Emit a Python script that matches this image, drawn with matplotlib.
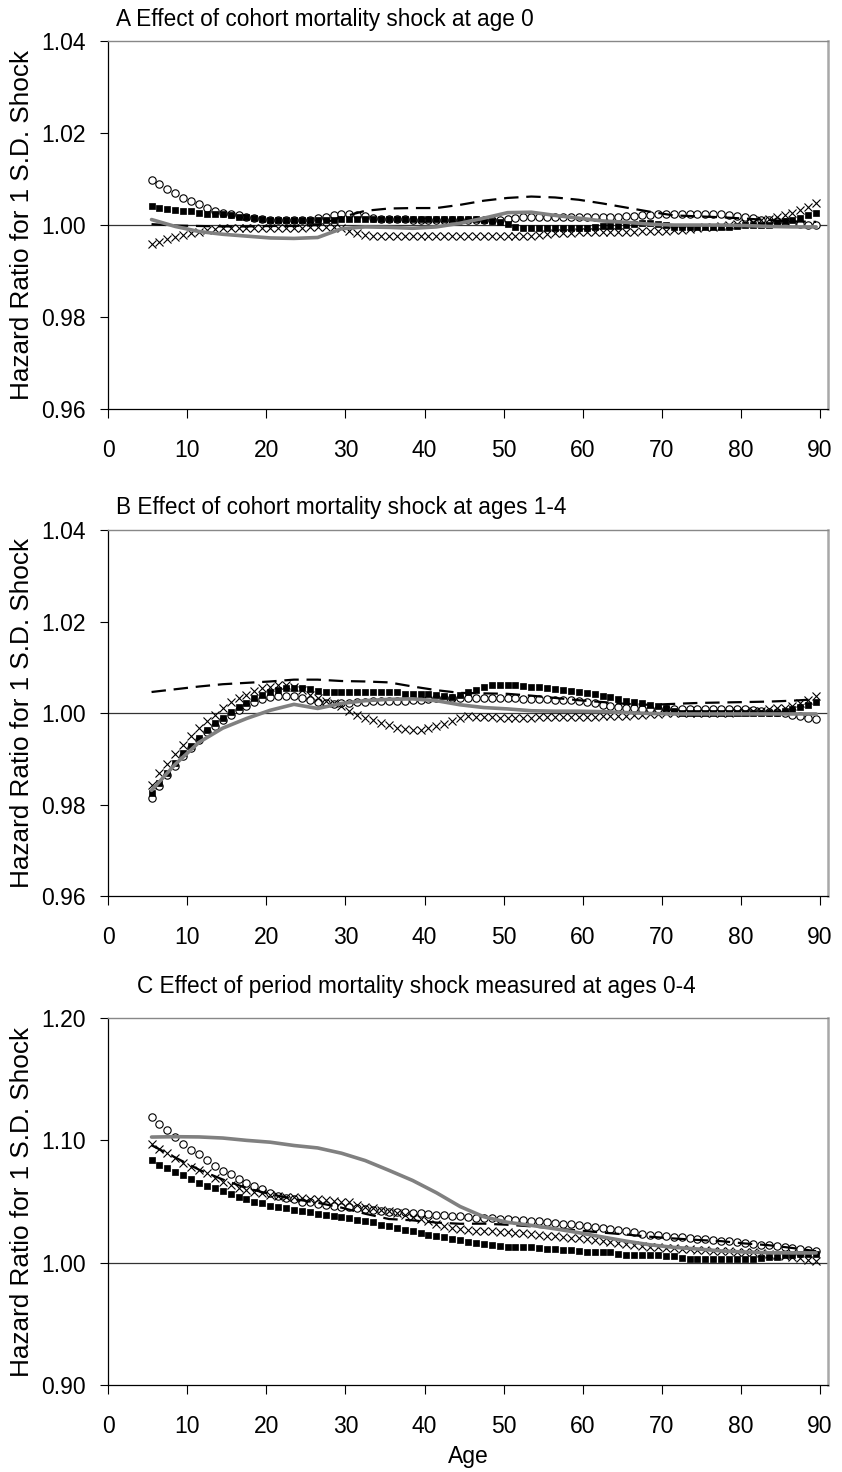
import numpy as np
import matplotlib
matplotlib.use("Agg")
from matplotlib import pyplot as plt

plt.rcParams['font.family'] = ['Liberation Sans', 'DejaVu Sans']

# Edades 5..89 (marcadores anuales), lineas cada 3 años
ages = np.arange(5, 90)
line_ages = np.arange(5, 90, 3)

# ---- Panel A: shock de cohorte a edad 0 ----
a_circ = [1.0099, 1.0089, 1.0078, 1.0069, 1.0059, 1.0053, 1.0046, 1.0038, 1.0031, 1.0027,
          1.0024, 1.0021, 1.0018, 1.0016, 1.0014, 1.0012, 1.0011, 1.0010, 1.0010, 1.0011,
          1.0012, 1.0015, 1.0017, 1.0021, 1.0023, 1.0024, 1.0022, 1.0019, 1.0016, 1.0014,
          1.0013, 1.0013, 1.0013, 1.0012, 1.0012, 1.0012, 1.0012, 1.0012, 1.0012, 1.0012,
          1.0012, 1.0012, 1.0012, 1.0012, 1.0012, 1.0013, 1.0015, 1.0017, 1.0018, 1.0018,
          1.0018, 1.0018, 1.0018, 1.0018, 1.0018, 1.0018, 1.0018, 1.0018, 1.0018, 1.0018,
          1.0019, 1.0020, 1.0021, 1.0022, 1.0023, 1.0023, 1.0023, 1.0023, 1.0023, 1.0023,
          1.0023, 1.0023, 1.0023, 1.0021, 1.0019, 1.0017, 1.0015, 1.0012, 1.0010, 1.0008,
          1.0006, 1.0004, 1.0003, 1.0001, 1.0000]
a_sq = [1.0041, 1.0038, 1.0035, 1.0033, 1.0031, 1.0030, 1.0027, 1.0025, 1.0023, 1.0023,
        1.0022, 1.0018, 1.0017, 1.0015, 1.0013, 1.0012, 1.0012, 1.0011, 1.0011, 1.0011,
        1.0011, 1.0011, 1.0012, 1.0012, 1.0013, 1.0014, 1.0014, 1.0014, 1.0014, 1.0014,
        1.0014, 1.0014, 1.0014, 1.0014, 1.0014, 1.0014, 1.0014, 1.0014, 1.0014, 1.0014,
        1.0014, 1.0014, 1.0012, 1.0009, 1.0006, 1.0003, 0.9996, 0.9993, 0.9993, 0.9993,
        0.9993, 0.9993, 0.9993, 0.9993, 0.9993, 0.9993, 0.9995, 0.9997, 0.9998, 0.9998,
        1.0000, 1.0003, 1.0004, 1.0004, 1.0003, 1.0000, 0.9996, 0.9996, 0.9996, 0.9996,
        0.9996, 0.9996, 0.9996, 0.9996, 0.9998, 1.0000, 1.0000, 1.0000, 1.0000, 1.0004,
        1.0008, 1.0012, 1.0016, 1.0021, 1.0026]
a_x = [0.9958, 0.9964, 0.9969, 0.9973, 0.9978, 0.9982, 0.9985, 0.9989, 0.9992, 0.9993,
       0.9993, 0.9993, 0.9993, 0.9993, 0.9993, 0.9993, 0.9993, 0.9993, 0.9993, 0.9994,
       0.9995, 0.9996, 0.9996, 0.9996, 0.9993, 0.9988, 0.9982, 0.9979, 0.9977, 0.9977,
       0.9977, 0.9976, 0.9976, 0.9976, 0.9976, 0.9976, 0.9976, 0.9977, 0.9977, 0.9977,
       0.9977, 0.9976, 0.9976, 0.9976, 0.9976, 0.9976, 0.9976, 0.9976, 0.9977, 0.9979,
       0.9980, 0.9982, 0.9983, 0.9983, 0.9984, 0.9984, 0.9985, 0.9985, 0.9986, 0.9986,
       0.9986, 0.9986, 0.9987, 0.9987, 0.9987, 0.9988, 0.9989, 0.9990, 0.9991, 0.9993,
       0.9995, 0.9996, 0.9998, 1.0000, 1.0002, 1.0004, 1.0007, 1.0010, 1.0014, 1.0017,
       1.0021, 1.0027, 1.0033, 1.0040, 1.0048]
a_dash = [1.0002, 0.9999, 0.9998, 0.9997, 0.9997, 0.9998, 0.9998, 1.0000, 1.0017, 1.0031,
          1.0036, 1.0037, 1.0037, 1.0044, 1.0053, 1.0059, 1.0062, 1.0060, 1.0055, 1.0047,
          1.0038, 1.0029, 1.0021, 1.0019, 1.0017, 1.0014, 1.0011, 1.0008, 1.0007]
a_gray = [1.0012, 0.9997, 0.9986, 0.9980, 0.9976, 0.9972, 0.9971, 0.9973, 0.9992, 0.9996,
          0.9995, 0.9993, 0.9996, 1.0004, 1.0015, 1.0027, 1.0028, 1.0021, 1.0015, 1.0009,
          1.0006, 1.0002, 1.0000, 1.0000, 1.0000, 0.9999, 0.9997, 0.9996, 0.9996]

# ---- Panel B: shock de cohorte a edades 1-4 ----
b_circ = [0.9814, 0.9841, 0.9864, 0.9884, 0.9905, 0.9924, 0.9942, 0.9958, 0.9972, 0.9985,
          0.9996, 1.0006, 1.0015, 1.0024, 1.0030, 1.0034, 1.0037, 1.0037, 1.0037, 1.0033,
          1.0029, 1.0024, 1.0021, 1.0020, 1.0021, 1.0022, 1.0024, 1.0025, 1.0026, 1.0026,
          1.0026, 1.0026, 1.0027, 1.0028, 1.0029, 1.0031, 1.0032, 1.0033, 1.0033, 1.0033,
          1.0033, 1.0033, 1.0033, 1.0033, 1.0033, 1.0033, 1.0032, 1.0031, 1.0030, 1.0030,
          1.0030, 1.0029, 1.0029, 1.0028, 1.0027, 1.0025, 1.0021, 1.0018, 1.0016, 1.0013,
          1.0011, 1.0010, 1.0009, 1.0008, 1.0008, 1.0008, 1.0008, 1.0008, 1.0008, 1.0008,
          1.0008, 1.0008, 1.0008, 1.0008, 1.0008, 1.0008, 1.0006, 1.0004, 1.0003, 1.0002,
          0.9999, 0.9996, 0.9994, 0.9990, 0.9987]
b_sq = [0.9826, 0.9848, 0.9870, 0.9890, 0.9912, 0.9929, 0.9946, 0.9963, 0.9978, 0.9990,
        1.0002, 1.0013, 1.0022, 1.0032, 1.0039, 1.0046, 1.0050, 1.0055, 1.0055, 1.0054,
        1.0052, 1.0049, 1.0047, 1.0046, 1.0046, 1.0046, 1.0046, 1.0046, 1.0046, 1.0046,
        1.0046, 1.0046, 1.0042, 1.0042, 1.0042, 1.0042, 1.0039, 1.0037, 1.0036, 1.0040,
        1.0046, 1.0051, 1.0058, 1.0061, 1.0062, 1.0062, 1.0061, 1.0059, 1.0058, 1.0056,
        1.0054, 1.0052, 1.0051, 1.0049, 1.0047, 1.0044, 1.0041, 1.0038, 1.0035, 1.0031,
        1.0027, 1.0024, 1.0021, 1.0018, 1.0015, 1.0010, 1.0004, 1.0000, 1.0000, 1.0000,
        1.0000, 1.0000, 1.0000, 1.0000, 1.0000, 1.0000, 1.0000, 1.0000, 1.0000, 1.0000,
        1.0004, 1.0008, 1.0013, 1.0017, 1.0024]
b_x = [0.9842, 0.9868, 0.9888, 0.9910, 0.9930, 0.9949, 0.9967, 0.9982, 0.9996, 1.0011,
       1.0024, 1.0033, 1.0040, 1.0048, 1.0054, 1.0056, 1.0061, 1.0062, 1.0057, 1.0051,
       1.0040, 1.0033, 1.0026, 1.0022, 1.0015, 1.0004, 0.9996, 0.9989, 0.9985, 0.9978,
       0.9973, 0.9968, 0.9965, 0.9963, 0.9963, 0.9967, 0.9971, 0.9976, 0.9982, 0.9989,
       0.9994, 0.9992, 0.9991, 0.9991, 0.9990, 0.9990, 0.9990, 0.9990, 0.9990, 0.9991,
       0.9991, 0.9991, 0.9991, 0.9991, 0.9992, 0.9992, 0.9992, 0.9993, 0.9993, 0.9993,
       0.9994, 0.9995, 0.9996, 0.9997, 0.9998, 0.9999, 1.0000, 1.0001, 1.0001, 1.0001,
       1.0001, 1.0001, 1.0001, 1.0001, 1.0002, 1.0003, 1.0004, 1.0005, 1.0008, 1.0010,
       1.0012, 1.0015, 1.0021, 1.0029, 1.0037]
b_dash = [1.0046, 1.0052, 1.0058, 1.0063, 1.0066, 1.0069, 1.0073, 1.0073, 1.0070, 1.0069,
          1.0067, 1.0058, 1.0050, 1.0044, 1.0043, 1.0042, 1.0038, 1.0033, 1.0028, 1.0024,
          1.0020, 1.0018, 1.0020, 1.0022, 1.0023, 1.0024, 1.0025, 1.0027, 1.0030]
b_gray = [0.9831, 0.9888, 0.9936, 0.9967, 0.9988, 1.0006, 1.0019, 1.0010, 1.0021, 1.0027,
          1.0030, 1.0031, 1.0027, 1.0018, 1.0012, 1.0009, 1.0005, 1.0004, 1.0004, 1.0003,
          1.0001, 0.9999, 0.9998, 0.9998, 0.9998, 0.9998, 0.9998, 0.9998, 0.9998]

# ---- Panel C: shock de periodo a edades 0-4 ----
c_circ = [1.1195, 1.1135, 1.1081, 1.1027, 1.0973, 1.0925, 1.0887, 1.0838, 1.0789, 1.0751,
          1.0724, 1.0681, 1.0654, 1.0627, 1.0600, 1.0573, 1.0546, 1.0532, 1.0524, 1.0500,
          1.0492, 1.0481, 1.0473, 1.0465, 1.0459, 1.0454, 1.0446, 1.0438, 1.0432, 1.0424,
          1.0416, 1.0411, 1.0411, 1.0405, 1.0405, 1.0400, 1.0392, 1.0386, 1.0384, 1.0378,
          1.0373, 1.0368, 1.0365, 1.0362, 1.0358, 1.0355, 1.0350, 1.0346, 1.0342, 1.0338,
          1.0332, 1.0326, 1.0320, 1.0315, 1.0308, 1.0300, 1.0292, 1.0283, 1.0275, 1.0266,
          1.0258, 1.0248, 1.0238, 1.0230, 1.0224, 1.0219, 1.0214, 1.0208, 1.0202, 1.0197,
          1.0192, 1.0186, 1.0180, 1.0174, 1.0168, 1.0162, 1.0155, 1.0148, 1.0141, 1.0135,
          1.0128, 1.0120, 1.0113, 1.0105, 1.0099]
c_sq = [1.0838, 1.0797, 1.0770, 1.0743, 1.0716, 1.0681, 1.0654, 1.0627, 1.0608, 1.0589,
        1.0562, 1.0541, 1.0519, 1.0500, 1.0487, 1.0465, 1.0454, 1.0446, 1.0432, 1.0419,
        1.0411, 1.0400, 1.0392, 1.0384, 1.0373, 1.0365, 1.0351, 1.0338, 1.0330, 1.0311,
        1.0297, 1.0284, 1.0270, 1.0257, 1.0243, 1.0230, 1.0221, 1.0211, 1.0195, 1.0184,
        1.0170, 1.0163, 1.0155, 1.0148, 1.0140, 1.0132, 1.0128, 1.0127, 1.0126, 1.0124,
        1.0115, 1.0108, 1.0104, 1.0102, 1.0095, 1.0090, 1.0087, 1.0086, 1.0084, 1.0075,
        1.0066, 1.0060, 1.0059, 1.0059, 1.0059, 1.0058, 1.0052, 1.0040, 1.0034, 1.0032,
        1.0032, 1.0032, 1.0032, 1.0032, 1.0032, 1.0032, 1.0032, 1.0040, 1.0045, 1.0047,
        1.0060, 1.0065, 1.0068, 1.0070, 1.0072]
c_x = [1.0973, 1.0933, 1.0897, 1.0852, 1.0816, 1.0784, 1.0757, 1.0730, 1.0689, 1.0662,
       1.0635, 1.0608, 1.0595, 1.0581, 1.0568, 1.0554, 1.0546, 1.0541, 1.0535, 1.0527,
       1.0524, 1.0519, 1.0514, 1.0508, 1.0500, 1.0492, 1.0473, 1.0459, 1.0446, 1.0432,
       1.0419, 1.0405, 1.0392, 1.0373, 1.0357, 1.0338, 1.0319, 1.0297, 1.0285, 1.0275,
       1.0268, 1.0262, 1.0258, 1.0255, 1.0252, 1.0250, 1.0246, 1.0240, 1.0234, 1.0228,
       1.0222, 1.0216, 1.0210, 1.0204, 1.0198, 1.0190, 1.0182, 1.0174, 1.0166, 1.0158,
       1.0150, 1.0144, 1.0138, 1.0132, 1.0126, 1.0120, 1.0116, 1.0112, 1.0108, 1.0104,
       1.0100, 1.0097, 1.0094, 1.0092, 1.0090, 1.0088, 1.0084, 1.0078, 1.0072, 1.0064,
       1.0056, 1.0048, 1.0038, 1.0026, 1.0014]
c_dash = [1.0960, 1.0860, 1.0760, 1.0680, 1.0610, 1.0560, 1.0520, 1.0490, 1.0450, 1.0400,
          1.0357, 1.0346, 1.0328, 1.0318, 1.0319, 1.0310, 1.0297, 1.0280, 1.0263, 1.0246,
          1.0230, 1.0212, 1.0198, 1.0186, 1.0176, 1.0157, 1.0143, 1.0120, 1.0094]
c_gray = [1.1027, 1.1030, 1.1028, 1.1019, 1.1000, 1.0985, 1.0958, 1.0938, 1.0895, 1.0835,
          1.0755, 1.0672, 1.0572, 1.0459, 1.0375, 1.0330, 1.0305, 1.0277, 1.0245, 1.0210,
          1.0176, 1.0146, 1.0125, 1.0112, 1.0096, 1.0087, 1.0081, 1.0080, 1.0080]

titles = ["A Effect of cohort mortality shock at age 0",
          "B Effect of cohort mortality shock at ages 1-4",
          "C Effect of period mortality shock measured at ages 0-4"]
ylabel = "Hazard Ratio for 1 S.D. Shock"
x_ticks = list(range(0, 100, 10))


def panel(ax, circ, sq, cross, dash, gray, yticks, fmt, title, title_x, title_y):
    # los marcadores se dibujan a mitad del año de edad
    x = ages + 0.5
    xl = line_ages + 0.5
    ax.axhline(1.0, color='#333333', lw=0.9, zorder=1)
    ax.plot(x, circ, 'o', ms=5.3, mfc='white', mec='black', mew=0.8, zorder=2)
    ax.plot(x, sq, 's', ms=4.9, mfc='black', mec='black', mew=0.5, zorder=3)
    ax.plot(x, cross, 'x', ms=5.8, color='black', mew=0.8, zorder=4)
    ax.plot(xl, dash, color='black', lw=1.6, ls=(0, (6.5, 3.5)), zorder=5)
    ax.plot(xl, gray, color='#808080', lw=2.6, zorder=6, solid_capstyle='round')

    ax.set_xlim(0, 91)
    ax.set_ylim(yticks[0], yticks[-1])
    ax.set_xticks(x_ticks)
    ax.set_yticks(yticks)
    ax.set_yticklabels([fmt % v for v in yticks])
    ax.tick_params(axis='x', direction='out', length=6.5, width=0.8, pad=15, labelsize=16.5)
    ax.tick_params(axis='y', direction='out', length=6, width=0.8, pad=10, labelsize=16.5)
    ax.spines['top'].set_color('#888888')
    ax.spines['top'].set_linewidth(1.0)
    ax.spines['right'].set_color('#a8a8a8')
    ax.spines['right'].set_linewidth(1.8)
    ax.spines['left'].set_linewidth(0.9)
    ax.spines['bottom'].set_linewidth(0.9)
    ax.set_ylabel(ylabel, fontsize=18.8)
    ax.yaxis.set_label_coords(-0.103, 0.5)
    ax.text(title_x, title_y, title, transform=ax.transAxes, ha='left',
            va='baseline', fontsize=16.3)


fig = plt.figure(figsize=(8.42, 14.72), dpi=100)
left, width = 0.1283, 0.8551
axA = fig.add_axes([left, 0.7221, width, 0.2500])
axB = fig.add_axes([left, 0.3913, width, 0.2486])
axC = fig.add_axes([left, 0.0591, width, 0.2493])

panel(axA, a_circ, a_sq, a_x, a_dash, a_gray, [0.96, 0.98, 1.00, 1.02, 1.04], '%.2f',
      titles[0], 0.011, 1.041)
panel(axB, b_circ, b_sq, b_x, b_dash, b_gray, [0.96, 0.98, 1.00, 1.02, 1.04], '%.2f',
      titles[1], 0.011, 1.044)
panel(axC, c_circ, c_sq, c_x, c_dash, c_gray, [0.90, 1.00, 1.10, 1.20], '%.2f',
      titles[2], 0.040, 1.068)

axC.set_xlabel("Age", fontsize=16.5, labelpad=5)

fig.savefig("out.png", dpi=100)
